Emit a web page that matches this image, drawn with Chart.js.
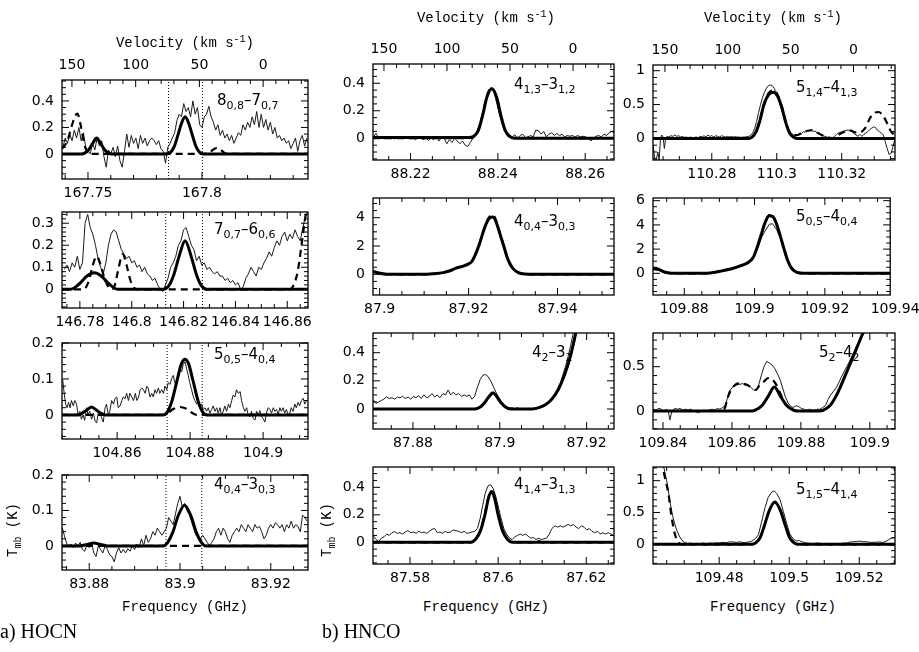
<!DOCTYPE html>
<html>
<head>
<meta charset="utf-8">
<script src="https://cdn.jsdelivr.net/npm/chart.js@4.4.1/dist/chart.umd.min.js"></script>
<style>
body { margin: 0; background: #fff; }
#wrap { position: relative; width: 919px; height: 652px; overflow: hidden; background: #fff; }
canvas { position: absolute; z-index: 1; }
.t { position: absolute; z-index: 2; font: 15px 'DejaVu Sans'; line-height: 18px; white-space: nowrap; color: #000; }
.t sub { font-size: 11px; vertical-align: -4px; line-height: 0; }
.ax { position: absolute; z-index: 2; font: 14px 'Liberation Mono'; line-height: 18px; text-align: center; width: 200px; white-space: nowrap; color: #000; }
.ax sup { font-size: 10px; vertical-align: 5px; line-height: 0; }
.ax sub { font-size: 10px; vertical-align: -4px; line-height: 0; }
.rot { width: 80px; transform: rotate(-90deg); }
.cap { position: absolute; z-index: 2; font: 20px 'Liberation Serif'; color: #000; white-space: nowrap; }
</style>
</head>
<body>
<div id="wrap">
  <div class="ax" style="left:85px;top:34px">Velocity (km s<sup>-1</sup>)</div>
  <div class="ax" style="left:386px;top:9px">Velocity (km s<sup>-1</sup>)</div>
  <div class="ax" style="left:673px;top:9px">Velocity (km s<sup>-1</sup>)</div>
  <div class="ax" style="left:85px;top:598px">Frequency (GHz)</div>
  <div class="ax" style="left:386px;top:598px">Frequency (GHz)</div>
  <div class="ax" style="left:673px;top:598px">Frequency (GHz)</div>
  <div class="ax rot" style="left:-27px;top:521px">T<sub>mb</sub> (K)</div>
  <div class="ax rot" style="left:287px;top:521px">T<sub>mb</sub> (K)</div>
  <div class="cap" style="left:0px;top:620px">a) HOCN</div>
  <div class="cap" style="left:322px;top:620px">b) HNCO</div>

  <div class="t" style="left:217px;top:91px">8<sub>0,8</sub>–7<sub>0,7</sub></div>
  <div class="t" style="left:214px;top:220px">7<sub>0,7</sub>–6<sub>0,6</sub></div>
  <div class="t" style="left:214px;top:345px">5<sub>0,5</sub>–4<sub>0,4</sub></div>
  <div class="t" style="left:214px;top:475px">4<sub>0,4</sub>–3<sub>0,3</sub></div>
  <div class="t" style="left:514px;top:75px">4<sub>1,3</sub>–3<sub>1,2</sub></div>
  <div class="t" style="left:796px;top:78px">5<sub>1,4</sub>–4<sub>1,3</sub></div>
  <div class="t" style="left:514px;top:212px">4<sub>0,4</sub>–3<sub>0,3</sub></div>
  <div class="t" style="left:796px;top:207px">5<sub>0,5</sub>–4<sub>0,4</sub></div>
  <div class="t" style="left:532px;top:343px">4<sub>2</sub>–3<sub>2</sub></div>
  <div class="t" style="left:819px;top:343px">5<sub>2</sub>–4<sub>2</sub></div>
  <div class="t" style="left:514px;top:475px">4<sub>1,4</sub>–3<sub>1,3</sub></div>
  <div class="t" style="left:796px;top:480px">5<sub>1,5</sub>–4<sub>1,4</sub></div>
</div>
<script>
// ---------- tick labels ----------
const velTicks = [150, 100, 50, 0];
const a1XTicks = [167.75, 167.8];
const a2XTicks = [146.78, 146.8, 146.82, 146.84, 146.86];
const a3XTicks = [104.86, 104.88, 104.9];
const a4XTicks = [83.88, 83.9, 83.92];
const b1XTicks = [88.22, 88.24, 88.26];
const b2XTicks = [87.9, 87.92, 87.94];
const b3XTicks = [87.88, 87.9, 87.92];
const b4XTicks = [87.58, 87.6, 87.62];
const c1XTicks = [110.28, 110.3, 110.32];
const c2XTicks = [109.88, 109.9, 109.92, 109.94];
const c3XTicks = [109.84, 109.86, 109.88, 109.9];
const c4XTicks = [109.48, 109.5, 109.52];
const a1YTicks = [0, 0.2, 0.4];
const a2YTicks = [0, 0.1, 0.2, 0.3];
const a3YTicks = [0, 0.1, 0.2];
const a4YTicks = [0, 0.1, 0.2];
const bYTicks = [0, 0.2, 0.4];
const b2YTicks = [0, 2, 4];
const c1YTicks = [0, 0.5, 1];
const c2YTicks = [0, 2, 4, 6];
const c3YTicks = [0, 0.5];
const c4YTicks = [0, 0.5, 1];

// ---------- HOCN 8(0,8)-7(0,7) ----------
const a1Obs = [[167.739,.05],[167.740,.12],[167.741,.08],[167.742,.15],[167.743,.10],[167.744,.18],[167.745,.12],[167.746,.20],[167.747,.10],[167.748,.16],[167.749,.05],[167.750,.02],[167.751,.00],[167.752,.08],[167.753,.03],[167.754,.12],[167.755,.06],[167.756,.10],[167.757,-.02],[167.758,-.10],[167.759,.03],[167.760,.00],[167.761,.05],[167.762,-.02],[167.763,.06],[167.764,-.05],[167.765,-.10],[167.766,.02],[167.767,.15],[167.768,.05],[167.769,.14],[167.770,.08],[167.771,.12],[167.772,.04],[167.773,.14],[167.774,.08],[167.775,.12],[167.776,.06],[167.777,.10],[167.778,.12],[167.779,.10],[167.780,.07],[167.781,.10],[167.782,.04],[167.783,.02],[167.784,-.07],[167.785,.05],[167.786,.08],[167.787,.12],[167.788,.16],[167.789,.25],[167.790,.30],[167.791,.28],[167.792,.38],[167.793,.32],[167.794,.35],[167.795,.28],[167.796,.40],[167.797,.30],[167.798,.35],[167.799,.22],[167.800,.20],[167.801,.28],[167.802,.30],[167.803,.36],[167.804,.28],[167.805,.24],[167.806,.18],[167.807,.22],[167.808,.14],[167.809,.18],[167.810,.12],[167.811,.15],[167.812,.10],[167.813,.14],[167.814,.08],[167.815,.12],[167.816,.16],[167.817,.14],[167.818,.22],[167.819,.18],[167.820,.24],[167.821,.20],[167.822,.28],[167.823,.22],[167.824,.32],[167.825,.20],[167.826,.30],[167.827,.20],[167.828,.26],[167.829,.18],[167.830,.24],[167.831,.15],[167.832,.20],[167.833,.12],[167.834,.14],[167.835,.10],[167.836,.12],[167.837,.08],[167.838,.10],[167.839,.04],[167.840,.08],[167.841,.12],[167.842,.02],[167.843,.10],[167.844,.14],[167.845,.06],[167.846,.12]];
const a1Model = [[167.7386,0],[167.7472,0],[167.7487,.008],[167.7503,.032],[167.752,.078],[167.7538,.12],[167.7556,.078],[167.7573,.032],[167.7589,.008],[167.7604,0],[167.7846,0],[167.7862,.012],[167.7878,.055],[167.7894,.14],[167.791,.23],[167.7926,.28],[167.7942,.23],[167.7958,.14],[167.7974,.055],[167.799,.012],[167.8006,0],[167.8465,0]];
const a1Dash = [[167.7386,.04],[167.741,.10],[167.743,.22],[167.7453,.305],[167.747,.20],[167.7483,.08],[167.7495,.02],[167.751,0],[167.8025,0],[167.804,.02],[167.8055,.04],[167.8066,.045],[167.808,.035],[167.8095,.012],[167.811,0],[167.8465,0]];
const a1Dots = [167.7853, 167.8002];

// ---------- HOCN 7(0,7)-6(0,6) ----------
const a2Obs = [[146.774,.09],[146.775,.11],[146.776,.08],[146.777,.12],[146.778,.10],[146.779,.15],[146.780,.09],[146.781,.12],[146.782,.30],[146.783,.34],[146.784,.28],[146.785,.25],[146.786,.20],[146.787,.14],[146.788,.10],[146.789,.07],[146.790,.12],[146.791,.20],[146.792,.25],[146.793,.27],[146.794,.26],[146.795,.22],[146.796,.18],[146.797,.16],[146.798,.14],[146.799,.15],[146.800,.12],[146.801,.13],[146.802,.10],[146.803,.11],[146.804,.08],[146.805,.10],[146.806,.07],[146.807,.06],[146.808,.04],[146.809,.05],[146.810,.02],[146.811,.00],[146.812,-.01],[146.813,.02],[146.814,.05],[146.815,.10],[146.816,.12],[146.817,.15],[146.818,.20],[146.819,.22],[146.820,.27],[146.821,.28],[146.822,.24],[146.823,.20],[146.824,.18],[146.825,.13],[146.826,.15],[146.827,.11],[146.828,.12],[146.829,.09],[146.830,.10],[146.831,.08],[146.832,.07],[146.833,.08],[146.834,.06],[146.835,.06],[146.836,.04],[146.837,.05],[146.838,.03],[146.839,.04],[146.840,.02],[146.841,.03],[146.842,.00],[146.843,.01],[146.844,.05],[146.845,.07],[146.846,.10],[146.847,.08],[146.848,.06],[146.849,.10],[146.850,.09],[146.851,.12],[146.852,.14],[146.853,.17],[146.854,.15],[146.855,.19],[146.856,.22],[146.857,.20],[146.858,.24],[146.859,.26],[146.860,.22],[146.861,.25],[146.862,.23],[146.863,.27],[146.864,.24],[146.865,.22],[146.866,.28],[146.867,.33],[146.868,.36]];
const a2Model = [[146.7731,0],[146.7765,0],[146.7785,.012],[146.7805,.033],[146.7825,.058],[146.7855,.075],[146.7885,.058],[146.7905,.033],[146.7925,.012],[146.7945,0],[146.8122,0],[146.8142,.014],[146.8162,.065],[146.8184,.155],[146.8206,.22],[146.8228,.155],[146.825,.065],[146.827,.014],[146.829,0],[146.868,0]];
const a2Dash = [[146.7731,0],[146.7815,0],[146.7835,.04],[146.785,.11],[146.7865,.15],[146.788,.11],[146.7895,.05],[146.791,.01],[146.7925,0],[146.7935,.02],[146.795,.10],[146.7965,.16],[146.798,.11],[146.7995,.04],[146.801,.005],[146.8025,0],[146.861,0],[146.8625,.02],[146.864,.08],[146.8655,.20],[146.867,.33],[146.868,.38]];
const a2Dots = [146.8131, 146.8273];

// ---------- HOCN 5(0,5)-4(0,4) ----------
const a3Obs = [[104.8451,.097],[104.8455,.06],[104.8459,.03],[104.8463,.02],[104.8467,.035],[104.8471,.02],[104.8475,.04],[104.8480,.025],[104.8484,.04],[104.8489,.03],[104.8493,0],[104.8498,.01],[104.8502,-.012],[104.8507,0],[104.8511,-.015],[104.8516,.02],[104.8520,0],[104.8525,.01],[104.8530,-.012],[104.8535,.005],[104.8540,-.018],[104.8544,-.022],[104.8549,.01],[104.8553,.008],[104.8558,-.01],[104.8562,-.02],[104.8567,.02],[104.8571,.03],[104.8576,0],[104.8580,.01],[104.8585,.04],[104.8590,.03],[104.8594,.045],[104.8599,.05],[104.8603,.02],[104.8608,.025],[104.8613,.04],[104.8617,.05],[104.8622,.045],[104.8626,.06],[104.8631,.04],[104.8635,.06],[104.8640,.05],[104.8645,.04],[104.8650,.06],[104.8654,.04],[104.8659,.05],[104.8663,.07],[104.8668,.075],[104.8672,.07],[104.8677,.06],[104.8681,.08],[104.8685,.075],[104.8690,.05],[104.8695,.06],[104.8699,.05],[104.8704,.07],[104.8708,.06],[104.8713,.075],[104.8717,.06],[104.8722,.07],[104.8727,.06],[104.8731,.08],[104.8736,.07],[104.8740,.09],[104.8745,.085],[104.8749,.10],[104.8754,.11],[104.8758,.09],[104.8763,.08],[104.8768,.11],[104.8772,.13],[104.8777,.12],[104.8781,.14],[104.8786,.148],[104.8790,.13],[104.8795,.11],[104.8799,.09],[104.8804,.07],[104.8809,.05],[104.8813,.04],[104.8818,.03],[104.8822,.04],[104.8827,.025],[104.8832,.03],[104.8836,.015],[104.8841,.02],[104.8845,.01],[104.8850,.02],[104.8854,.005],[104.8859,.015],[104.8863,.025],[104.8868,.01],[104.8873,.02],[104.8877,.005],[104.8882,.02],[104.8886,0],[104.8891,.01],[104.8895,.025],[104.8900,.01],[104.8905,.03],[104.8909,.02],[104.8914,.04],[104.8918,.055],[104.8923,.05],[104.8927,.07],[104.8932,.06],[104.8937,.065],[104.8941,.04],[104.8946,.02],[104.8950,.01],[104.8955,.02],[104.8959,0],[104.8964,-.005],[104.8968,.01],[104.8973,-.01],[104.8978,-.014],[104.8982,.01],[104.8987,0],[104.8991,.012],[104.8996,-.005],[104.9000,-.01],[104.9005,-.02],[104.9009,.005],[104.9014,.02],[104.9019,.015],[104.9023,.005],[104.9028,.02],[104.9032,.01],[104.9037,.015],[104.9041,0],[104.9046,.02],[104.9050,.01],[104.9055,.02],[104.9059,.005],[104.9064,.015],[104.9068,0],[104.9073,.005],[104.9077,.02],[104.9082,.01],[104.9087,.03],[104.9091,.02],[104.9096,.035],[104.9100,.025],[104.9105,.04],[104.9110,.046],[104.9114,.03],[104.9119,.04]];
const a3Model = [[104.8449,0],[104.8495,0],[104.8503,.004],[104.8515,.012],[104.8530,.022],[104.8545,.012],[104.8557,.004],[104.8568,0],[104.8726,0],[104.8737,.007],[104.8750,.038],[104.8764,.095],[104.8776,.142],[104.8786,.155],[104.8796,.142],[104.8808,.095],[104.8822,.038],[104.8835,.007],[104.8846,0],[104.9123,0]];
const a3Dash = [[104.8449,0],[104.8728,0],[104.8740,.006],[104.8755,.017],[104.8772,.022],[104.8790,.017],[104.8805,.006],[104.8818,0],[104.9123,0]];
const a3Dots = [104.8737, 104.8833];

// ---------- HOCN 4(0,4)-3(0,3) ----------
const a4Obs = [[83.8741,.05],[83.8745,.03],[83.8750,.008],[83.8755,0],[83.8760,.005],[83.8765,-.005],[83.8770,.008],[83.8775,0],[83.8780,.01],[83.8785,-.01],[83.8790,-.015],[83.8795,.005],[83.8800,-.005],[83.8805,.01],[83.8810,-.02],[83.8815,-.03],[83.8820,0],[83.8825,-.01],[83.8830,-.02],[83.8835,0],[83.8840,-.01],[83.8845,-.025],[83.8850,-.03],[83.8855,-.045],[83.8860,-.02],[83.8865,-.005],[83.8870,-.02],[83.8875,-.01],[83.8880,-.02],[83.8885,-.008],[83.8890,-.015],[83.8895,0],[83.8900,-.01],[83.8905,.005],[83.8910,-.005],[83.8915,.02],[83.8920,0],[83.8925,.03],[83.8930,.01],[83.8935,.02],[83.8940,.04],[83.8945,.03],[83.8950,.05],[83.8955,.04],[83.8960,.03],[83.8965,.04],[83.8970,.05],[83.8975,.08],[83.8980,.07],[83.8985,.06],[83.8990,.09],[83.8995,.12],[83.9000,.14],[83.9005,.11],[83.9010,.12],[83.9015,.10],[83.9020,.09],[83.9025,.07],[83.9030,.05],[83.9035,.03],[83.9040,.025],[83.9045,.02],[83.9050,.03],[83.9055,.02],[83.9060,.01],[83.9065,0],[83.9070,.01],[83.9075,.02],[83.9080,.04],[83.9085,.05],[83.9090,.03],[83.9095,.05],[83.9100,.04],[83.9105,.02],[83.9110,.01],[83.9115,.03],[83.9120,.04],[83.9125,.05],[83.9130,.04],[83.9135,.06],[83.9140,.05],[83.9145,.04],[83.9150,.06],[83.9155,.05],[83.9160,.04],[83.9165,.06],[83.9170,.05],[83.9175,.055],[83.9180,.04],[83.9185,.02],[83.9190,.03],[83.9195,.05],[83.9200,.06],[83.9205,.05],[83.9210,.065],[83.9215,.06],[83.9220,.05],[83.9225,.06],[83.9230,.04],[83.9235,.06],[83.9240,.05],[83.9245,.07],[83.9250,.05],[83.9255,.06],[83.9260,.055],[83.9265,.04],[83.9270,.087],[83.9275,.08],[83.9280,.07]];
const a4Model = [[83.874,0],[83.878,0],[83.8795,.004],[83.881,.008],[83.8825,.004],[83.884,0],[83.8963,0],[83.8973,.01],[83.8984,.038],[83.8996,.085],[83.901,.115],[83.9024,.085],[83.9036,.038],[83.9047,.01],[83.9057,0],[83.9282,0]];
const a4Dash = [[83.874,0],[83.9282,0]];
const a4Dots = [83.8969, 83.9048];

// ---------- HNCO 4(1,3)-3(1,2) ----------
const b1Obs = [[88.2115,.01],[88.2121,.035],[88.2127,0],[88.2133,.01],[88.2139,-.005],[88.2145,.005],[88.2151,0],[88.2157,.01],[88.2163,-.005],[88.2169,.005],[88.2175,0],[88.2181,.01],[88.2187,0],[88.2193,.008],[88.2199,-.005],[88.2205,.005],[88.2211,-.01],[88.2217,0],[88.2223,.005],[88.2229,-.01],[88.2235,0],[88.2241,-.015],[88.2247,0],[88.2253,-.01],[88.2259,.01],[88.2265,-.02],[88.2271,.005],[88.2277,0],[88.2283,-.04],[88.2289,-.01],[88.2295,-.03],[88.2301,0],[88.2307,-.02],[88.2313,-.04],[88.2319,-.02],[88.2325,-.05],[88.2331,-.06],[88.2337,-.03],[88.2343,0],[88.2349,.03],[88.2355,.07],[88.2361,.13],[88.2367,.20],[88.2373,.27],[88.2379,.34],[88.2385,.37],[88.2391,.34],[88.2397,.26],[88.2403,.18],[88.2409,.11],[88.2415,.06],[88.2421,.03],[88.2427,.02],[88.2433,.01],[88.2439,.025],[88.2445,0],[88.2451,.02],[88.2457,.03],[88.2463,.005],[88.2469,.01],[88.2475,.02],[88.2481,.01],[88.2487,.06],[88.2493,.055],[88.2499,.03],[88.2505,.05],[88.2511,.01],[88.2517,.03],[88.2523,.04],[88.2529,.02],[88.2535,.035],[88.2541,.02],[88.2547,.03],[88.2553,.01],[88.2559,.02],[88.2565,.015],[88.2571,.02],[88.2577,.01],[88.2583,.02],[88.2589,.01],[88.2595,.015],[88.2601,.01],[88.2607,0],[88.2613,-.02],[88.2619,0],[88.2625,.015],[88.2631,.02],[88.2637,.01],[88.2643,.03],[88.2649,.02],[88.2655,.04],[88.2661,.05],[88.2666,.04]];
const b1Model = [[88.2114,.005],[88.2333,.005],[88.2344,.012],[88.2355,.055],[88.2365,.165],[88.2375,.30],[88.2386,.36],[88.2397,.30],[88.2407,.165],[88.2417,.055],[88.2428,.012],[88.2439,0],[88.2666,0]];
const b1Dash = [[88.2114,0],[88.2333,0],[88.2344,.013],[88.2355,.058],[88.2365,.17],[88.2375,.31],[88.2386,.365],[88.2397,.30],[88.2407,.16],[88.2417,.05],[88.2428,.01],[88.2439,0],[88.2666,0]];

// ---------- HNCO 4(0,4)-3(0,3) ----------
const b2Obs = [[87.8985,.25],[87.8997,.12],[87.901,.03],[87.903,0],[87.906,-.02],[87.909,0],[87.912,.05],[87.9143,.14],[87.9158,.28],[87.9173,.48],[87.9188,.60],[87.9199,.75],[87.9207,.95],[87.9214,1.35],[87.9224,2.15],[87.9233,3.05],[87.924,3.65],[87.9248,4.05],[87.9255,4.1],[87.9263,3.65],[87.927,2.95],[87.9279,2.1],[87.9289,1.1],[87.93,.45],[87.9312,.15],[87.9327,.03],[87.935,-.01],[87.94,0],[87.945,.01],[87.95,0],[87.9527,0]];
const b2Model = [[87.8985,.2],[87.8997,.1],[87.9016,.01],[87.905,0],[87.9091,0],[87.9121,.04],[87.9143,.12],[87.9158,.25],[87.9173,.45],[87.9188,.58],[87.9199,.72],[87.9207,.9],[87.9214,1.3],[87.9224,2.1],[87.9233,3.0],[87.924,3.6],[87.9248,4.0],[87.9255,4.05],[87.9263,3.6],[87.927,2.9],[87.9279,2.0],[87.9289,1.0],[87.93,.4],[87.9312,.12],[87.9327,.02],[87.9345,0],[87.9527,0]];
const b2Dash = [[87.8985,.2],[87.8997,.1],[87.9016,.01],[87.905,0],[87.9091,0],[87.9121,.04],[87.9143,.12],[87.9158,.25],[87.9173,.45],[87.9188,.58],[87.9199,.72],[87.9207,.9],[87.9214,1.3],[87.9224,2.1],[87.9233,3.05],[87.924,3.7],[87.9248,4.1],[87.9255,4.2],[87.9263,3.7],[87.927,2.95],[87.9279,2.0],[87.9289,1.0],[87.93,.4],[87.9312,.12],[87.9327,.02],[87.9345,0],[87.9527,0]];

// ---------- HNCO 4(2)-3(2) ----------
const b3Obs = [[87.8709,.064],[87.8715,.04],[87.8721,.05],[87.8727,.06],[87.8733,.07],[87.8739,.087],[87.8745,.075],[87.8752,.08],[87.8758,.07],[87.8764,.085],[87.8770,.08],[87.8776,.09],[87.8782,.075],[87.8789,.085],[87.8795,.07],[87.8801,.09],[87.8807,.08],[87.8813,.095],[87.8819,.075],[87.8825,.10],[87.8832,.08],[87.8838,.09],[87.8844,.11],[87.8850,.085],[87.8856,.10],[87.8862,.08],[87.8869,.11],[87.8875,.10],[87.8881,.135],[87.8887,.10],[87.8893,.12],[87.8899,.10],[87.8905,.11],[87.8912,.09],[87.8918,.10],[87.8924,.09],[87.8930,.10],[87.8936,.07],[87.8942,.09],[87.8948,.15],[87.8955,.21],[87.8961,.24],[87.8967,.245],[87.8973,.23],[87.8979,.20],[87.8985,.16],[87.8991,.12],[87.8998,.08],[87.9004,.04],[87.9010,.02],[87.9016,.01],[87.9022,.005],[87.9028,.01],[87.9034,0],[87.9041,.01],[87.9047,0],[87.9053,.005],[87.9059,0],[87.9065,.005],[87.9071,0],[87.9077,.005],[87.9084,0],[87.9090,.01],[87.9096,.02],[87.9102,.03],[87.9108,.04],[87.9114,.06],[87.9120,.08],[87.9127,.11],[87.9133,.14],[87.9139,.18],[87.9145,.24],[87.9151,.30],[87.9157,.37],[87.9163,.45],[87.9170,.55],[87.9176,.65],[87.9182,.75]];
const b3Model = [[87.8708,0],[87.8943,0],[87.8954,.012],[87.8965,.045],[87.8975,.088],[87.8984,.115],[87.8993,.088],[87.9003,.045],[87.9014,.012],[87.9025,0],[87.9075,0],[87.909,.01],[87.9105,.03],[87.912,.07],[87.9135,.14],[87.915,.25],[87.9163,.38],[87.9175,.54],[87.9185,.68],[87.9195,.85]];
const b3Dash = [[87.8708,0],[87.8943,0],[87.8954,.012],[87.8965,.043],[87.8975,.083],[87.8984,.11],[87.8993,.083],[87.9003,.043],[87.9014,.012],[87.9025,0],[87.9075,0],[87.909,.01],[87.9105,.03],[87.912,.07],[87.9135,.14],[87.915,.25],[87.9163,.38],[87.9175,.54],[87.9185,.68],[87.9195,.85]];

// ---------- HNCO 4(1,4)-3(1,3) ----------
const b4Obs = [[87.5717,.045],[87.5723,.02],[87.5729,.005],[87.5735,.03],[87.5741,.04],[87.5747,.06],[87.5753,.05],[87.5759,.07],[87.5765,.078],[87.5771,.065],[87.5777,.07],[87.5783,.06],[87.5789,.075],[87.5795,.085],[87.5802,.07],[87.5808,.075],[87.5814,.065],[87.5820,.08],[87.5826,.07],[87.5832,.075],[87.5838,.065],[87.5844,.08],[87.5850,.095],[87.5856,.10],[87.5862,.07],[87.5868,.075],[87.5874,.065],[87.5880,.08],[87.5886,.07],[87.5892,.075],[87.5898,.09],[87.5904,.085],[87.5910,.08],[87.5917,.07],[87.5923,.08],[87.5929,.065],[87.5935,.07],[87.5941,.075],[87.5947,.08],[87.5953,.10],[87.5959,.17],[87.5965,.27],[87.5971,.36],[87.5977,.41],[87.5983,.42],[87.5989,.39],[87.5995,.33],[87.6001,.25],[87.6007,.17],[87.6013,.10],[87.6019,.06],[87.6026,.03],[87.6032,.02],[87.6038,.04],[87.6044,.05],[87.6050,.06],[87.6056,.05],[87.6062,.06],[87.6068,.045],[87.6074,.03],[87.6080,.035],[87.6086,.02],[87.6092,.03],[87.6098,.02],[87.6104,.025],[87.6110,.03],[87.6116,.06],[87.6122,.10],[87.6129,.12],[87.6135,.11],[87.6141,.12],[87.6147,.11],[87.6153,.12],[87.6159,.13],[87.6165,.12],[87.6171,.13],[87.6177,.11],[87.6183,.10],[87.6189,.12],[87.6195,.11],[87.6201,.09],[87.6207,.10],[87.6213,.08],[87.6219,.07],[87.6226,.08],[87.6232,.06],[87.6238,.07],[87.6244,.06],[87.6250,.07],[87.6256,.06],[87.6262,.05]];
const b4Model = [[87.5716,0],[87.5938,0],[87.5949,.022],[87.596,.085],[87.597,.20],[87.5978,.32],[87.5985,.37],[87.5992,.32],[87.600,.20],[87.601,.085],[87.6021,.022],[87.6032,0],[87.6263,0]];
const b4Dash = [[87.5716,0],[87.5938,0],[87.5949,.022],[87.596,.085],[87.597,.21],[87.5978,.33],[87.5985,.375],[87.5992,.33],[87.600,.21],[87.601,.085],[87.6021,.022],[87.6032,0],[87.608,0],[87.6086,.02],[87.6092,.01],[87.610,0],[87.6263,0]];

// ---------- HNCO 5(1,4)-4(1,3) ----------
const c1Obs = [[110.2620,-.10],[110.2624,-.30],[110.2629,-.32],[110.2634,-.20],[110.2638,-.32],[110.2642,0],[110.2646,.05],[110.2650,.02],[110.2654,-.15],[110.2658,0],[110.2662,.03],[110.2668,.02],[110.2674,.04],[110.2680,.03],[110.2686,.05],[110.2692,.03],[110.2698,.04],[110.2704,.02],[110.2710,.03],[110.2716,.015],[110.2722,.02],[110.2728,.01],[110.2734,.02],[110.2740,.01],[110.2746,.015],[110.2752,.02],[110.2758,.01],[110.2764,.03],[110.2770,.02],[110.2776,.04],[110.2782,.02],[110.2788,.05],[110.2794,.03],[110.2800,.04],[110.2806,.02],[110.2812,.04],[110.2818,.03],[110.2824,.02],[110.2830,.04],[110.2836,.03],[110.2842,.02],[110.2848,.03],[110.2854,.02],[110.2860,.03],[110.2866,.02],[110.2872,.025],[110.2878,.02],[110.2884,.02],[110.2890,.015],[110.2896,.02],[110.2902,.02],[110.2908,.025],[110.2914,.03],[110.2920,.05],[110.2926,.08],[110.2932,.15],[110.2938,.25],[110.2944,.38],[110.2950,.50],[110.2956,.60],[110.2962,.68],[110.2968,.74],[110.2974,.78],[110.2980,.79],[110.2986,.78],[110.2992,.74],[110.2998,.68],[110.3004,.60],[110.3010,.50],[110.3016,.40],[110.3022,.30],[110.3028,.22],[110.3034,.15],[110.3040,.10],[110.3046,.07],[110.3052,.05],[110.3058,.03],[110.3064,.05],[110.3070,.08],[110.3076,.07],[110.3082,.10],[110.3088,.09],[110.3094,.12],[110.3100,.11],[110.3106,.13],[110.3112,.10],[110.3118,.11],[110.3124,.08],[110.3130,.07],[110.3136,.05],[110.3142,.04],[110.3148,.03],[110.3154,.02],[110.3160,.01],[110.3166,0],[110.3172,.01],[110.3178,.03],[110.3184,.06],[110.3190,.08],[110.3196,.09],[110.3202,.10],[110.3208,.11],[110.3214,.12],[110.3220,.12],[110.3226,.11],[110.3232,.10],[110.3238,.07],[110.3244,.05],[110.3250,.03],[110.3256,.06],[110.3262,.03],[110.3268,.06],[110.3274,.08],[110.3280,.10],[110.3286,.13],[110.3292,.15],[110.3298,.17],[110.3304,.16],[110.3310,.12],[110.3316,.10],[110.3322,.08],[110.3328,.05],[110.3334,-.05],[110.3340,-.15],[110.3346,-.24],[110.3352,-.22],[110.3358,-.12],[110.3364,0]];
const c1Model = [[110.2619,0],[110.2913,0],[110.2924,.02],[110.2935,.085],[110.2948,.26],[110.2960,.49],[110.2975,.645],[110.2989,.68],[110.3003,.62],[110.3016,.45],[110.3028,.23],[110.3040,.075],[110.3051,.02],[110.3062,0],[110.3364,0]];
const c1Dash = [[110.2619,0],[110.2913,0],[110.2924,.02],[110.2935,.09],[110.2948,.27],[110.2960,.50],[110.2975,.67],[110.2989,.71],[110.3003,.64],[110.3016,.46],[110.3028,.24],[110.3040,.09],[110.3052,.05],[110.3064,.05],[110.3077,.08],[110.3092,.11],[110.3107,.12],[110.3123,.09],[110.3138,.05],[110.3154,.02],[110.3174,0],[110.3189,.05],[110.3205,.09],[110.3225,.12],[110.3241,.09],[110.3256,.09],[110.3272,.15],[110.3287,.30],[110.3302,.38],[110.3313,.39],[110.3328,.33],[110.3340,.22],[110.3352,.10],[110.3364,.05]];

// ---------- HNCO 5(0,5)-4(0,4) ----------
const c2Obs = [[109.8711,.3],[109.8726,.28],[109.874,.12],[109.8758,.02],[109.8772,0],[109.8851,.01],[109.8879,.06],[109.8907,.2],[109.8935,.4],[109.8963,.65],[109.8982,.9],[109.8996,1.25],[109.9008,2.0],[109.9019,2.9],[109.9028,3.4],[109.9042,4.05],[109.9051,4.1],[109.9063,3.6],[109.9075,2.8],[109.9089,1.6],[109.9103,.6],[109.9117,.2],[109.913,.05],[109.916,0],[109.92,.01],[109.93,0],[109.9386,0]];
const c2Model = [[109.8711,.4],[109.8726,.35],[109.874,.15],[109.8758,.02],[109.8772,0],[109.8851,0],[109.8879,.05],[109.8907,.2],[109.8935,.38],[109.8963,.65],[109.8982,.9],[109.8996,1.3],[109.9008,2.2],[109.9019,3.2],[109.903,4.2],[109.9042,4.75],[109.9051,4.7],[109.9061,4.2],[109.9072,3.2],[109.9084,2.0],[109.9095,1.0],[109.9107,.35],[109.9121,.08],[109.914,.01],[109.9177,0],[109.9386,0]];
const c2Dash = [[109.8711,.35],[109.8726,.3],[109.874,.13],[109.8758,.02],[109.8772,0],[109.8851,0],[109.8879,.05],[109.8907,.2],[109.8935,.38],[109.8963,.65],[109.8982,.9],[109.8996,1.3],[109.9008,2.2],[109.9019,3.2],[109.903,4.2],[109.9042,4.8],[109.9051,4.75],[109.9061,4.2],[109.9072,3.2],[109.9084,2.0],[109.9095,1.0],[109.9107,.35],[109.9121,.08],[109.914,.01],[109.9177,0],[109.9386,0]];

// ---------- HNCO 5(2)-4(2) ----------
const c3Obs = [[109.8372,.02],[109.8380,.01],[109.8388,.03],[109.8395,.02],[109.8403,0],[109.8411,.02],[109.8416,-.02],[109.8420,-.10],[109.8426,0],[109.8434,.03],[109.8442,.02],[109.8449,.03],[109.8457,.01],[109.8465,.02],[109.8473,.01],[109.8480,.02],[109.8488,0],[109.8496,-.01],[109.8503,-.02],[109.8511,0],[109.8519,.01],[109.8527,0],[109.8534,.01],[109.8542,.02],[109.8550,.01],[109.8558,.03],[109.8565,.02],[109.8573,.04],[109.8581,.06],[109.8587,.15],[109.8592,.22],[109.8600,.26],[109.8608,.30],[109.8616,.32],[109.8623,.30],[109.8631,.31],[109.8639,.29],[109.8647,.30],[109.8654,.27],[109.8662,.24],[109.8670,.23],[109.8678,.30],[109.8685,.40],[109.8693,.50],[109.8701,.56],[109.8709,.54],[109.8716,.52],[109.8724,.48],[109.8732,.42],[109.8740,.35],[109.8747,.26],[109.8755,.16],[109.8763,.09],[109.8771,.05],[109.8778,.04],[109.8786,.06],[109.8794,.05],[109.8801,.03],[109.8809,.02],[109.8817,.01],[109.8825,.02],[109.8832,.01],[109.8840,.01],[109.8848,.02],[109.8855,.02],[109.8863,.04],[109.8871,.06],[109.8879,.13],[109.8886,.18],[109.8894,.22],[109.8902,.26],[109.8910,.32],[109.8917,.38],[109.8925,.44],[109.8933,.50],[109.8941,.56],[109.8948,.62],[109.8956,.68],[109.8964,.74],[109.8971,.80],[109.8979,.85],[109.8987,.90]];
const c3Model = [[109.8371,0],[109.8658,0],[109.8669,.012],[109.8688,.065],[109.8705,.165],[109.8723,.27],[109.8741,.165],[109.8758,.065],[109.8777,.012],[109.8788,0],[109.8855,0],[109.8875,.03],[109.889,.09],[109.8905,.19],[109.892,.32],[109.8935,.46],[109.895,.60],[109.8965,.74],[109.898,.88],[109.899,.97]];
const c3Dash = [[109.8371,0],[109.857,0],[109.858,.04],[109.8587,.14],[109.8595,.22],[109.8608,.29],[109.8623,.31],[109.864,.30],[109.8655,.27],[109.867,.24],[109.868,.29],[109.8695,.34],[109.8705,.37],[109.8716,.36],[109.8728,.30],[109.874,.20],[109.8752,.10],[109.8765,.04],[109.878,.01],[109.879,0],[109.8855,0],[109.8875,.03],[109.889,.09],[109.8905,.19],[109.892,.32],[109.8935,.46],[109.895,.60],[109.8965,.74],[109.898,.88],[109.899,.97]];

// ---------- HNCO 5(1,5)-4(1,4) ----------
const c4Obs = [[109.4625,1.5],[109.4639,1.3],[109.4644,1.15],[109.4650,1.0],[109.4656,.8],[109.4661,.62],[109.4667,.45],[109.4673,.32],[109.4679,.22],[109.4686,.13],[109.4694,.06],[109.4701,.03],[109.4711,.01],[109.4718,.02],[109.4726,.005],[109.4735,.015],[109.4745,.01],[109.4755,.02],[109.4764,.005],[109.4773,.02],[109.4783,.015],[109.4792,.025],[109.4802,.02],[109.4811,.03],[109.4821,.025],[109.4830,.04],[109.4840,.035],[109.4850,.03],[109.4859,.04],[109.4868,.025],[109.4878,.03],[109.4886,.04],[109.4893,.05],[109.4902,.08],[109.4912,.15],[109.4921,.35],[109.4931,.58],[109.4940,.74],[109.4950,.82],[109.4957,.84],[109.4964,.80],[109.4974,.70],[109.4983,.52],[109.4993,.32],[109.5002,.16],[109.5012,.08],[109.5021,.05],[109.5029,.06],[109.5036,.04],[109.5043,.03],[109.5050,.02],[109.5060,.015],[109.5069,.01],[109.5079,.02],[109.5088,.015],[109.5098,.005],[109.5107,.01],[109.5117,0],[109.5126,.005],[109.5136,.015],[109.5145,.01],[109.5155,.02],[109.5164,.02],[109.5174,.035],[109.5183,.04],[109.5193,.045],[109.5202,.05],[109.5212,.04],[109.5221,.04],[109.5231,.03],[109.5240,.03],[109.5250,.035],[109.5259,.035],[109.5267,.03],[109.5274,.04],[109.5283,.07],[109.5293,.10],[109.5301,.11]];
const c4Model = [[109.4611,0],[109.4893,0],[109.4904,.022],[109.4917,.105],[109.4930,.31],[109.4943,.53],[109.4959,.66],[109.4975,.53],[109.4988,.31],[109.5001,.105],[109.5014,.022],[109.5025,0],[109.5302,0]];
const c4Dash = [[109.4625,1.5],[109.4640,1.17],[109.4648,.98],[109.4655,.8],[109.4664,.43],[109.4674,.15],[109.4683,.04],[109.4692,0],[109.4893,0],[109.4904,.022],[109.4917,.105],[109.4930,.31],[109.4943,.53],[109.4959,.67],[109.4975,.53],[109.4988,.31],[109.5001,.105],[109.5014,.022],[109.5025,0],[109.5302,0]];

// ---------- layout of the twelve boxes ----------
const panels = [
  { box: [62, 80, 308, 179], x: [167.7386, 167.8465], y: [-0.189, 0.558], vel: [-35.2, 157.8], xt: a1XTicks, yt: a1YTicks, xs: [0.05, 0.01], ys: [0.2, 0.05], obs: a1Obs, model: a1Model, dash: a1Dash, dots: a1Dots },
  { box: [62, 212, 308, 308], x: [146.7731, 146.868], y: [-0.085, 0.351], xt: a2XTicks, yt: a2YTicks, xs: [0.02, 0.005], ys: [0.1, 0.02], obs: a2Obs, model: a2Model, dash: a2Dash, dots: a2Dots },
  { box: [62, 343, 308, 439], x: [104.8449, 104.9123], y: [-0.067, 0.2], xt: a3XTicks, yt: a3YTicks, xs: [0.02, 0.005], ys: [0.1, 0.02], obs: a3Obs, model: a3Model, dash: a3Dash, dots: a3Dots },
  { box: [62, 475, 308, 570], x: [83.874, 83.9282], y: [-0.068, 0.2], xt: a4XTicks, yt: a4YTicks, xs: [0.02, 0.005], ys: [0.1, 0.02], obs: a4Obs, model: a4Model, dash: a4Dash, dots: a4Dots },
  { box: [373, 64, 614, 160], x: [88.2114, 88.2666], y: [-0.158, 0.54], vel: [-32.5, 158.7], xt: b1XTicks, yt: bYTicks, xs: [0.02, 0.005], ys: [0.2, 0.05], obs: b1Obs, model: b1Model, dash: b1Dash },
  { box: [373, 198, 614, 295], x: [87.8985, 87.9527], y: [-1.46, 5.39], xt: b2XTicks, yt: b2YTicks, xs: [0.02, 0.005], ys: [2, 0.5], obs: b2Obs, model: b2Model, dash: b2Dash },
  { box: [373, 333, 614, 429], x: [87.8708, 87.9263], y: [-0.142, 0.54], xt: b3XTicks, yt: bYTicks, xs: [0.02, 0.005], ys: [0.2, 0.05], obs: b3Obs, model: b3Model, dash: b3Dash },
  { box: [373, 467, 614, 564], x: [87.5716, 87.6263], y: [-0.158, 0.548], xt: b4XTicks, yt: bYTicks, xs: [0.02, 0.005], ys: [0.2, 0.05], obs: b4Obs, model: b4Model, dash: b4Dash },
  { box: [653, 65, 895, 160], x: [110.2619, 110.3364], y: [-0.319, 1.084], vel: [-33, 159.5], xt: c1XTicks, yt: c1YTicks, xs: [0.02, 0.005], ys: [0.5, 0.1], obs: c1Obs, model: c1Model, dash: c1Dash },
  { box: [653, 198, 895, 295], x: [109.8711, 109.9386], y: [-1.79, 6.22], xt: c2XTicks, yt: c2YTicks, xs: [0.02, 0.005], ys: [2, 0.5], obs: c2Obs, model: c2Model, dash: c2Dash },
  { box: [653, 333, 895, 429], x: [109.8371, 109.9073], y: [-0.203, 0.88], xt: c3XTicks, yt: c3YTicks, xs: [0.02, 0.005], ys: [0.5, 0.1], obs: c3Obs, model: c3Model, dash: c3Dash },
  { box: [653, 467, 895, 564], x: [109.4611, 109.5302], y: [-0.31, 1.215], xt: c4XTicks, yt: c4YTicks, xs: [0.02, 0.005], ys: [0.5, 0.1], obs: c4Obs, model: c4Model, dash: c4Dash }
];

// inward tick marks on all four sides plus the frame
function eachTick(scale, major, minor, draw) {
  const lo = Math.min(scale.min, scale.max), hi = Math.max(scale.min, scale.max);
  for (let n = Math.ceil(lo / minor - 1e-6); n * minor <= hi + 1e-9; n++) {
    const v = n * minor;
    const r = v / major;
    draw(scale.getPixelForValue(v), Math.abs(r - Math.round(r)) < 1e-6 ? 7 : 4);
  }
}

const frameTicks = {
  id: 'frameTicks',
  afterDatasetsDraw(chart) {
    const o = chart.options.plugins.frameTicks;
    const { ctx, chartArea: a, scales } = chart;
    ctx.save();
    ctx.strokeStyle = '#000';
    ctx.lineWidth = 1;
    ctx.beginPath();
    eachTick(scales.x, o.xs[0], o.xs[1], (p, len) => { ctx.moveTo(p, a.bottom); ctx.lineTo(p, a.bottom - len); });
    if (scales.v) {
      eachTick(scales.v, 50, 10, (p, len) => { ctx.moveTo(p, a.top); ctx.lineTo(p, a.top + len); });
    } else {
      eachTick(scales.x, o.xs[0], o.xs[1], (p, len) => { ctx.moveTo(p, a.top); ctx.lineTo(p, a.top + len); });
    }
    eachTick(scales.y, o.ys[0], o.ys[1], (p, len) => {
      ctx.moveTo(a.left, p); ctx.lineTo(a.left + len, p);
      ctx.moveTo(a.right, p); ctx.lineTo(a.right - len, p);
    });
    ctx.stroke();
    ctx.lineWidth = 1.3;
    ctx.strokeRect(a.left, a.top, a.right - a.left, a.bottom - a.top);
    ctx.restore();
  }
};

const tickFont = { family: 'DejaVu Sans', size: 14 };

function makePanel(p) {
  const [L, T, R, B] = p.box;
  // room above the box: the velocity axis on top panels, plain padding elsewhere
  const topH = p.vel ? 30 : 20;
  const cv = document.createElement('canvas');
  cv.width = R - L + 90;
  cv.height = B - T + topH + 28;
  cv.style.left = (L - 60) + 'px';
  cv.style.top = (T - topH) + 'px';
  document.getElementById('wrap').appendChild(cv);

  const line = { xAxisID: 'x', yAxisID: 'y', pointRadius: 0, fill: false, clip: 0, borderColor: '#000' };
  const datasets = [
    Object.assign({}, line, { data: p.model, borderWidth: 3, cubicInterpolationMode: 'monotone', order: 1 }),
    Object.assign({}, line, { data: p.dash, borderWidth: 2.2, borderDash: [7, 5], cubicInterpolationMode: 'monotone', order: 2 }),
    Object.assign({}, line, { data: p.obs, borderWidth: 1, borderColor: '#1a1a1a', order: 3 })
  ];
  (p.dots || []).forEach(f => {
    datasets.push(Object.assign({}, line, { data: [[f, p.y[0]], [f, p.y[1]]], borderWidth: 1, borderDash: [1, 2], order: 4 }));
  });

  const common = {
    type: 'linear',
    grid: { display: false, drawTicks: false },
    border: { display: false },
    ticks: { color: '#000', font: tickFont, callback: v => String(v) }
  };
  const scales = {
    x: Object.assign({}, common, {
      position: 'bottom', min: p.x[0], max: p.x[1],
      ticks: Object.assign({}, common.ticks, { padding: 6, maxRotation: 0 }),
      afterBuildTicks: s => { s.ticks = p.xt.map(v => ({ value: v })); },
      afterFit: s => { s.height = 28; }
    }),
    y: Object.assign({}, common, {
      position: 'left', min: p.y[0], max: p.y[1],
      ticks: Object.assign({}, common.ticks, { padding: 8 }),
      afterBuildTicks: s => { s.ticks = p.yt.map(v => ({ value: v })); },
      afterFit: s => { s.width = 60; }
    })
  };
  if (p.vel) {
    scales.v = Object.assign({}, common, {
      position: 'top', min: p.vel[0], max: p.vel[1], reverse: true,
      ticks: Object.assign({}, common.ticks, { padding: 6, maxRotation: 0 }),
      afterBuildTicks: s => { s.ticks = velTicks.map(v => ({ value: v })); },
      afterFit: s => { s.height = 30; }
    });
  }

  new Chart(cv, {
    type: 'line',
    data: { datasets },
    options: {
      responsive: false,
      animation: false,
      events: [],
      layout: { padding: { top: p.vel ? 0 : 20, right: 30, left: 0, bottom: 0 } },
      plugins: { legend: { display: false }, tooltip: { enabled: false }, frameTicks: { xs: p.xs, ys: p.ys } },
      scales
    },
    plugins: [frameTicks]
  });
}

panels.forEach(makePanel);
</script>
</body>
</html>
